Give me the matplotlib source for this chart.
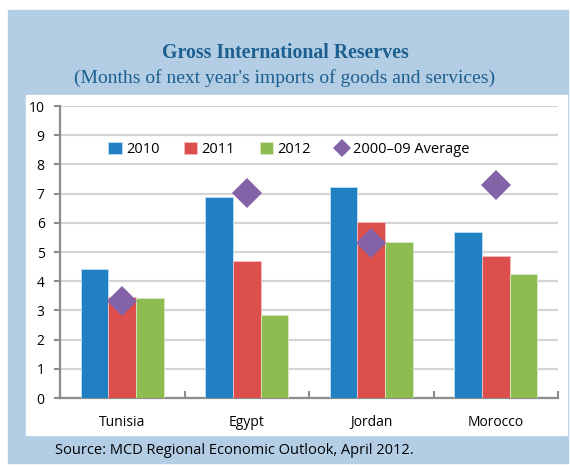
import numpy as np
import matplotlib.pyplot as plt
from matplotlib.patches import Rectangle

# Reserves in months of next year's imports
countries = ['Tunisia', 'Egypt', 'Jordan', 'Morocco']
r2010 = [4.41, 6.87, 7.24, 5.70]
r2011 = [3.45, 4.70, 6.04, 4.87]
r2012 = [3.41, 2.84, 5.35, 4.24]
avg_0009 = [3.33, 7.03, 5.30, 7.29]

c2010 = '#2180C2'
c2011 = '#DD4F4C'
c2012 = '#8FBC50'
cavg = '#8462A8'
title_col = '#1D5F8F'

W, H = 570, 468
fig = plt.figure(figsize=(W / 100, H / 100), dpi=100)

# background panel and white chart box
fig.patches.append(Rectangle((8 / W, 1 - 463 / H), 560 / W, 453 / H,
                             transform=fig.transFigure, color='#B2CDE4', zorder=0))
fig.patches.append(Rectangle((26 / W, 1 - 435 / H), 541 / W, 340 / H,
                             transform=fig.transFigure, color='white', zorder=0))

fig.text(0.5, 1 - 53 / H, 'Gross International Reserves', ha='center', va='center',
         family='Liberation Serif', fontweight='bold', fontsize=14.3, color=title_col)
fig.text(0.5, 1 - 78 / H, "(Months of next year's imports of goods and services)",
         ha='center', va='center', family='Liberation Serif', fontsize=14, color=title_col)
fig.text(55 / W, 1 - 451 / H, 'Source: MCD Regional Economic Outlook, April 2012.',
         ha='left', va='center', family='Open Sans', fontsize=10.5, color='black')

ax = fig.add_axes([60 / W, 1 - 398 / H, 498 / W, 292 / H])
ax.set_zorder(2)
ax.set_facecolor('none')

x = np.arange(len(countries))
w = 0.222
b1 = ax.bar(x - w, r2010, w, color=c2010, edgecolor='#BFE0F5', linewidth=0.6, label='2010', zorder=3)
b2 = ax.bar(x, r2011, w, color=c2011, edgecolor='#F4C0BF', linewidth=0.6, label='2011', zorder=3)
b3 = ax.bar(x + w, r2012, w, color=c2012, edgecolor='#D6EBC0', linewidth=0.6, label='2012', zorder=3)
avg_line, = ax.plot(x, avg_0009, 'D', color=cavg, markersize=15, markeredgewidth=0,
                    label='2000\u201309 Average', zorder=4)

ax.set_xlim(-0.5, 3.5)
ax.set_ylim(0, 10)
ax.set_yticks(range(0, 11))
ax.grid(axis='y', color='#D4D4D4', linewidth=1.6, zorder=1)

ax.set_xticks(x)
ax.set_xticklabels(countries)
ax.set_xticks(np.arange(-0.5, 4.0, 1.0), minor=True)
ax.tick_params(axis='x', which='major', length=0, pad=12)
ax.tick_params(axis='x', which='minor', direction='in', length=5, width=1.5, color='#8C8C8C')
ax.tick_params(axis='y', length=4, width=1.5, color='#8C8C8C', pad=7)
for lab in ax.get_xticklabels() + ax.get_yticklabels():
    lab.set_family('Open Sans')
    lab.set_fontsize(10)

for s in ['top', 'right']:
    ax.spines[s].set_visible(False)
for s in ['left', 'bottom']:
    ax.spines[s].set_color('#8C8C8C')
    ax.spines[s].set_linewidth(1.6)

ax.legend([b1, b2, b3, avg_line], ['2010', '2011', '2012', '2000\u201309 Average'],
          loc='center', bbox_to_anchor=(0.46, 0.85), ncol=4, frameon=False,
          prop={'family': 'Open Sans', 'size': 10.5}, handlelength=0.9, handleheight=0.9,
          handletextpad=0.3, columnspacing=1.7, markerscale=0.6)

fig.savefig('out.png', dpi=100)
